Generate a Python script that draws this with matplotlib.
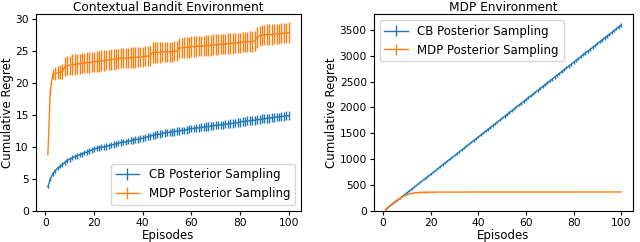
import matplotlib
matplotlib.use("Agg")
import matplotlib.pyplot as plt
import numpy as np

episodes = list(range(1, 101))

# --- Contextual Bandit environment ---
cb_cb_mean = [3.8, 5.0, 5.8, 6.3, 6.7, 7.0, 7.3, 7.6, 7.9, 8.1,
              8.3, 8.5, 8.6, 8.8, 8.9, 9.1, 9.2, 9.4, 9.5, 9.7,
              9.8, 9.9, 10.0, 10.0, 10.1, 10.2, 10.3, 10.4, 10.5, 10.6,
              10.7, 10.8, 10.8, 10.9, 11.0, 11.1, 11.2, 11.2, 11.3, 11.4,
              11.5, 11.6, 11.7, 11.8, 11.9, 12.0, 12.0, 12.1, 12.2, 12.3,
              12.3, 12.4, 12.4, 12.5, 12.5, 12.6, 12.6, 12.7, 12.8, 12.9,
              12.9, 13.0, 13.0, 13.1, 13.1, 13.2, 13.2, 13.3, 13.3, 13.4,
              13.4, 13.5, 13.5, 13.6, 13.6, 13.7, 13.7, 13.8, 13.8, 13.9,
              14.0, 14.0, 14.1, 14.1, 14.2, 14.2, 14.3, 14.3, 14.4, 14.4,
              14.5, 14.5, 14.6, 14.6, 14.7, 14.7, 14.8, 14.8, 14.9, 14.9]
cb_cb_err = [0.2, 0.3, 0.3, 0.3, 0.3, 0.35, 0.35, 0.35, 0.4, 0.4,
             0.4, 0.4, 0.4, 0.4, 0.4, 0.4, 0.45, 0.45, 0.45, 0.45,
             0.45, 0.45, 0.5, 0.5, 0.5, 0.5, 0.5, 0.5, 0.5, 0.5,
             0.5, 0.5, 0.5, 0.5, 0.55, 0.55, 0.55, 0.55, 0.55, 0.55,
             0.55, 0.55, 0.55, 0.55, 0.6, 0.6, 0.6, 0.6, 0.6, 0.6,
             0.6, 0.6, 0.6, 0.6, 0.6, 0.6, 0.6, 0.6, 0.6, 0.6,
             0.6, 0.6, 0.65, 0.65, 0.65, 0.65, 0.65, 0.65, 0.65, 0.65,
             0.65, 0.65, 0.65, 0.65, 0.65, 0.65, 0.65, 0.65, 0.7, 0.7,
             0.7, 0.7, 0.7, 0.7, 0.7, 0.7, 0.7, 0.7, 0.7, 0.7,
             0.7, 0.7, 0.7, 0.7, 0.7, 0.7, 0.7, 0.7, 0.7, 0.7]
cb_mdp_mean = [8.8, 18.8, 21.4, 21.5, 21.6, 21.7, 21.8, 22.6, 22.7, 22.8,
               22.9, 22.9, 23.0, 23.0, 23.1, 23.1, 23.2, 23.2, 23.3, 23.3,
               23.4, 23.4, 23.5, 23.5, 23.6, 23.6, 23.7, 23.7, 23.8, 23.8,
               23.9, 23.9, 23.9, 23.9, 24.0, 24.0, 24.0, 24.1, 24.1, 24.1,
               24.2, 24.2, 24.2,
               24.8, 24.8, 24.8, 24.8, 24.9, 24.9, 24.9, 24.9, 24.9, 25.0, 25.0,
               25.5, 25.5, 25.6, 25.6, 25.6, 25.7, 25.7, 25.7, 25.8, 25.8,
               25.8, 25.9, 25.9, 25.9,
               26.0, 26.0, 26.0, 26.1, 26.1, 26.1, 26.2, 26.2, 26.2, 26.3,
               26.3, 26.3, 26.4, 26.4, 26.4, 26.5, 26.5, 26.6,
               27.1, 27.4, 27.5, 27.5, 27.6, 27.6, 27.6, 27.7, 27.7, 27.7,
               27.8, 27.8, 27.8, 27.9]
cb_mdp_err = [0.0, 0.5, 0.8, 1.0, 1.0, 1.1, 1.2, 1.5, 1.5, 1.5] + [1.6] * 90

# --- MDP environment ---
mdp_cb_mean = [30, 65, 101, 137, 172, 208, 244, 280, 316, 352,
               388, 424, 460, 496, 532, 568, 604, 640, 676, 712,
               748, 784, 820, 856, 892, 928, 964, 1000, 1036, 1072,
               1108, 1144, 1180, 1216, 1252, 1288, 1324, 1360, 1396, 1432,
               1468, 1504, 1540, 1576, 1612, 1648, 1684, 1720, 1756, 1792,
               1828, 1864, 1900, 1936, 1972, 2008, 2044, 2080, 2116, 2152,
               2188, 2224, 2260, 2296, 2332, 2368, 2404, 2440, 2476, 2512,
               2548, 2584, 2620, 2656, 2692, 2728, 2764, 2800, 2836, 2872,
               2908, 2944, 2980, 3016, 3052, 3088, 3124, 3160, 3196, 3232,
               3268, 3304, 3340, 3376, 3412, 3448, 3484, 3520, 3556, 3592]
mdp_cb_err = [2, 3, 4, 5, 6, 7, 8, 9, 10, 10,
              11, 11, 12, 12, 13, 13, 14, 14, 15, 15,
              15, 16, 16, 16, 17, 17, 17, 18, 18, 18,
              19, 19, 19, 20, 20, 20, 20, 21, 21, 21,
              21, 22, 22, 22, 22, 23, 23, 23, 23, 24,
              24, 24, 24, 24, 25, 25, 25, 25, 25, 26,
              26, 26, 26, 26, 27, 27, 27, 27, 27, 27,
              28, 28, 28, 28, 28, 28, 29, 29, 29, 29,
              29, 29, 30, 30, 30, 30, 30, 30, 30, 31,
              31, 31, 31, 31, 31, 32, 32, 32, 32, 32]
mdp_mdp_mean = [30, 70, 110, 150, 185, 215, 245, 272, 295, 315,
                330, 340, 348, 354, 358, 361, 363, 364, 365, 365,
                365, 366, 366, 366, 366, 366, 366, 366, 366, 366,
                366, 366, 366, 366, 366, 367, 367, 367, 367, 367,
                367, 367, 367, 367, 367, 367, 367, 367, 367, 367,
                367, 367, 367, 367, 367, 367, 367, 367, 367, 367,
                367, 367, 367, 367, 367, 367, 367, 367, 367, 367,
                367, 367, 367, 367, 367, 367, 367, 367, 367, 367,
                368, 368, 368, 368, 368, 368, 368, 368, 368, 368,
                368, 368, 368, 368, 368, 368, 368, 368, 368, 368]
mdp_mdp_err = [2, 4, 6, 8, 10, 10, 10, 10, 10, 10] + [8] * 90

labels = ["CB Posterior Sampling", "MDP Posterior Sampling"]

fig = plt.figure(figsize=(6.4, 2.42), dpi=100)
ax1 = fig.add_axes([0.056, 0.128, 0.414, 0.814])
ax2 = fig.add_axes([0.584, 0.128, 0.405, 0.814])

ekw = dict(lw=1.0, elinewidth=1.0)

ax1.errorbar(episodes, cb_cb_mean, yerr=cb_cb_err, color="C0", label=labels[0], **ekw)
ax1.errorbar(episodes, cb_mdp_mean, yerr=cb_mdp_err, color="C1", label=labels[1], **ekw)
ax1.set_ylim(bottom=0)
ax1.set_title("Contextual Bandit Environment", fontsize=8.7, pad=2)
ax1.legend(loc="lower right", fontsize=8.5)

ax2.errorbar(episodes, mdp_cb_mean, yerr=mdp_cb_err, color="C0", label=labels[0], **ekw)
ax2.errorbar(episodes, mdp_mdp_mean, yerr=mdp_mdp_err, color="C1", label=labels[1], **ekw)
ax2.set_ylim(bottom=0)
ax2.set_title("MDP Environment", fontsize=8.7, pad=2)
ax2.legend(loc="upper left", fontsize=8.5)

for ax in (ax1, ax2):
    ax.set_xlabel("Episodes", fontsize=8.5, labelpad=1)
    ax.set_ylabel("Cumulative Regret", fontsize=8.5, labelpad=1)
    ax.tick_params(labelsize=7.7, length=3, pad=2)
    ax.set_xticks([0, 20, 40, 60, 80, 100])

fig.savefig("out.png", dpi=100)
